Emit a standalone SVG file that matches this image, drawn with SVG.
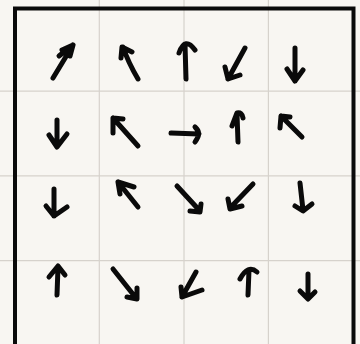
<svg xmlns="http://www.w3.org/2000/svg" width="360" height="344" viewBox="0 0 360 344">
<style>
.g{stroke:#d6d2cc;stroke-width:1.2;fill:none}
.b{stroke:#0a0a0a;stroke-width:4;fill:none}
.a{stroke:#0a0a0a;stroke-width:5;fill:none;stroke-linecap:round;stroke-linejoin:round}
</style>
<rect width="360" height="344" fill="#f8f6f2"/>
<g id="grid">
<path class="g" d="M99.3 0V344M184 0V344M268.4 0V344M0 91.1H360M0 175.9H360M0 260.6H360"/>
</g>
<path class="b" d="M15 344V8.5H353.5V344"/>
<g id="arrows">
<g id="r1c1"><path class="a" d="M53 78L73 45M62 50L73 45L70 56M59 56L70 47"/></g>
<g id="r1c2"><path class="a" d="M138 79Q128 62 123 47M121 58L122 47L132 52"/></g>
<g id="r1c3"><path class="a" d="M186 79L185 44M179 53Q185 36 195 50"/></g>
<g id="r1c4"><path class="a" d="M245 48L228 79M225 67L228 79L240 75"/></g>
<g id="r1c5"><path class="a" d="M295 48L295 81M287 69L295 81L303 70"/></g>
<g id="r2c1"><path class="a" d="M57 120L57 146M49 135L57 147L67 134"/></g>
<g id="r2c2"><path class="a" d="M138 146L113 118M113 133L113 118L123 119"/></g>
<g id="r2c3"><path class="a" d="M171 133L199 134M195 127Q202 133 195 142"/></g>
<g id="r2c4"><path class="a" d="M238 142L237 114M232 126L237 113Q242 112 243 118"/></g>
<g id="r2c5"><path class="a" d="M302 137L281 116M280 128L281 116L290 117"/></g>
<g id="r3c1"><path class="a" d="M54 189L54 216M46 206L54 216L67 207"/></g>
<g id="r3c2"><path class="a" d="M138 207L118 182M120 194L118 182L134 187"/></g>
<g id="r3c3"><path class="a" d="M177 186L200 211M190 211L200 212L201 204"/></g>
<g id="r3c4"><path class="a" d="M253 184L230 208M228 199L230 209L242 206"/></g>
<g id="r3c5"><path class="a" d="M300 183L303 210M295 206L303 211L312 204"/></g>
<g id="r4c1"><path class="a" d="M57 295L58 267M49 277L58 266L65 275"/></g>
<g id="r4c2"><path class="a" d="M113 269L136 298M127 297L137 299L137 288"/></g>
<g id="r4c3"><path class="a" d="M196 272L182 297M181 287L182 297L202 290"/></g>
<g id="r4c4"><path class="a" d="M248 295L249 270M240 279Q248 264 257 272"/></g>
<g id="r4c5"><path class="a" d="M308 274L308 298M300 291L308 299L315 292"/></g>
</g>
</svg>
